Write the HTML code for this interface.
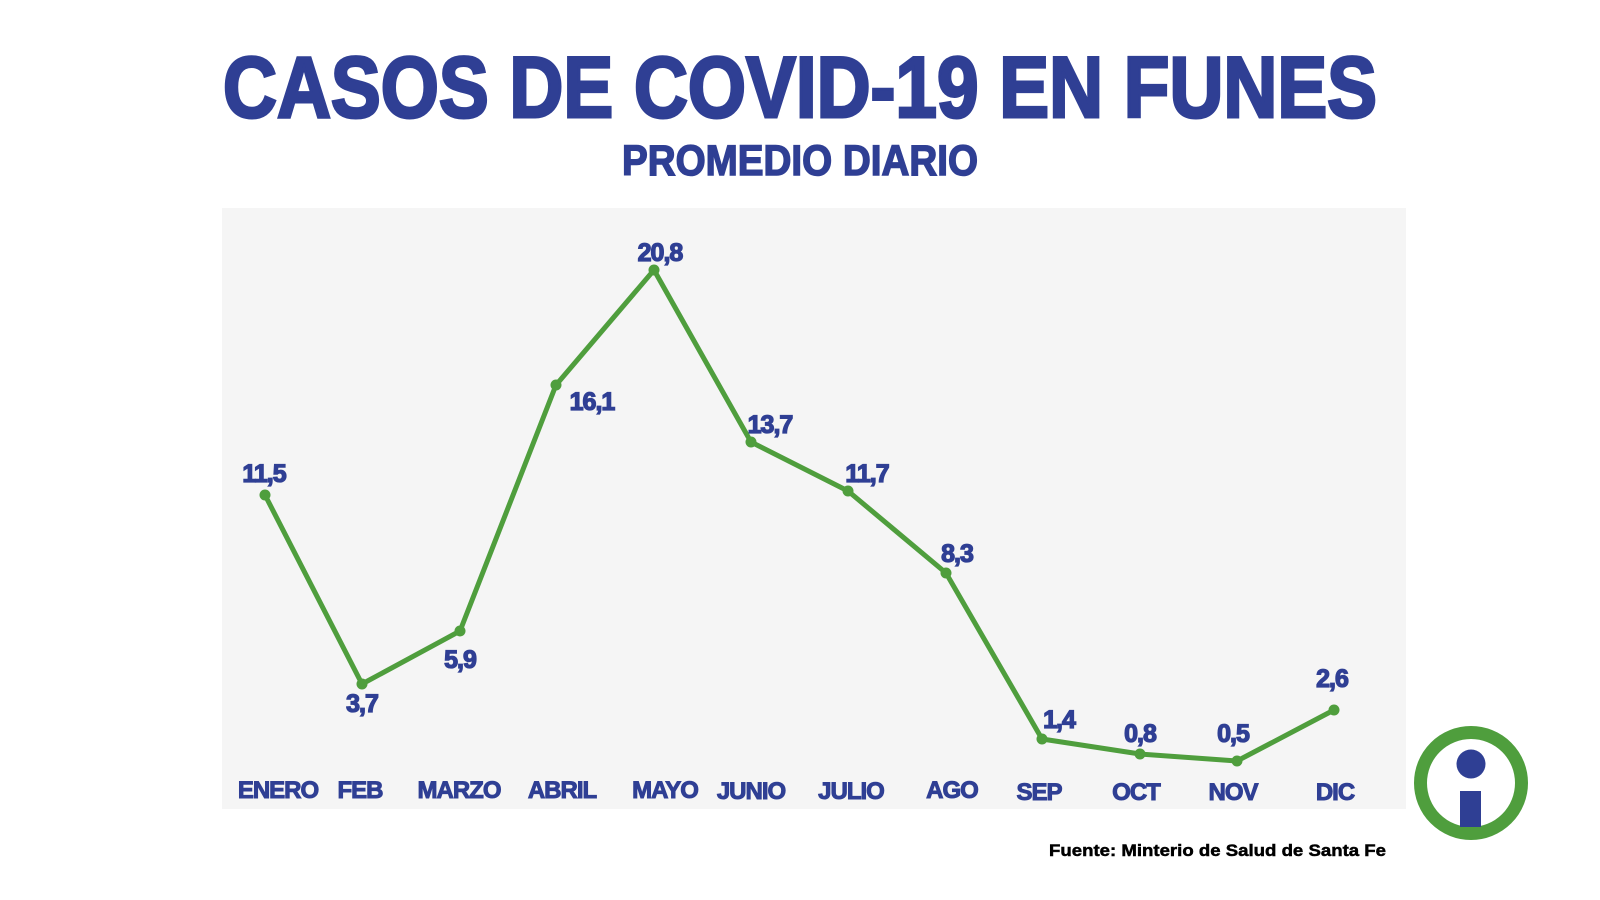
<!DOCTYPE html>
<html><head><meta charset="utf-8"><style>
html,body{margin:0;padding:0;background:#fff;width:1600px;height:900px;overflow:hidden}
svg{display:block}
text{font-family:"Liberation Sans",sans-serif;font-weight:bold}
</style></head><body>
<svg width="1600" height="900" viewBox="0 0 1600 900">
<rect x="222" y="208" width="1184" height="601" fill="#f5f5f5"/>
<text x="223" y="117" font-size="86" fill="#2f3f94" stroke="#2f3f94" stroke-width="3" textLength="1154" lengthAdjust="spacingAndGlyphs">CASOS DE COVID-19 EN FUNES</text>
<text x="622" y="175" font-size="43" fill="#2f3f94" stroke="#2f3f94" stroke-width="1.5" textLength="356" lengthAdjust="spacingAndGlyphs">PROMEDIO DIARIO</text>
<polyline fill="none" stroke="#4f9e3d" stroke-width="5" stroke-linejoin="round" points="265,495 362,684 460,631 556,385 654,270 751,442 848,491 946,573 1042,739 1140,754 1237,761 1334,710"/>
<g fill="#4f9e3d">
<circle cx="265" cy="495" r="5.5"/><circle cx="362" cy="684" r="5.5"/><circle cx="460" cy="631" r="5.5"/><circle cx="556" cy="385" r="5.5"/><circle cx="654" cy="270" r="5.5"/><circle cx="751" cy="442" r="5.5"/><circle cx="848" cy="491" r="5.5"/><circle cx="946" cy="573" r="5.5"/><circle cx="1042" cy="739" r="5.5"/><circle cx="1140" cy="754" r="5.5"/><circle cx="1237" cy="761" r="5.5"/><circle cx="1334" cy="710" r="5.5"/>
</g>
<g fill="#2f3f94" stroke="#2f3f94" stroke-width="1.3" font-size="25" text-anchor="middle" letter-spacing="-1">
<text x="264" y="482">11,5</text><text x="362" y="712">3,7</text><text x="460" y="668">5,9</text><text x="592" y="410">16,1</text><text x="660" y="261">20,8</text><text x="770" y="433">13,7</text><text x="867" y="482">11,7</text><text x="957" y="562">8,3</text><text x="1059" y="728">1,4</text><text x="1140" y="742">0,8</text><text x="1233" y="742">0,5</text><text x="1332" y="687">2,6</text>
</g>
<g fill="#2f3f94" stroke="#2f3f94" stroke-width="1" font-size="24" text-anchor="middle" letter-spacing="-1">
<text x="278" y="798">ENERO</text><text x="360" y="798">FEB</text><text x="459" y="798">MARZO</text><text x="562" y="798">ABRIL</text><text x="665" y="798">MAYO</text><text x="751" y="799">JUNIO</text><text x="851" y="799">JULIO</text><text x="952" y="798">AGO</text><text x="1039" y="800">SEP</text><text x="1136" y="800">OCT</text><text x="1233" y="800">NOV</text><text x="1335" y="800">DIC</text>
</g>
<text x="1049" y="856" font-size="17" fill="#000" stroke="#000" stroke-width="0.5" textLength="337" lengthAdjust="spacingAndGlyphs">Fuente: Minterio de Salud de Santa Fe</text>
<circle cx="1471" cy="783" r="50.5" fill="none" stroke="#4f9e3d" stroke-width="13"/>
<circle cx="1471" cy="764" r="14.5" fill="#2f3f94"/>
<rect x="1460" y="791" width="21" height="36" fill="#2f3f94"/>
</svg>
</body></html>
